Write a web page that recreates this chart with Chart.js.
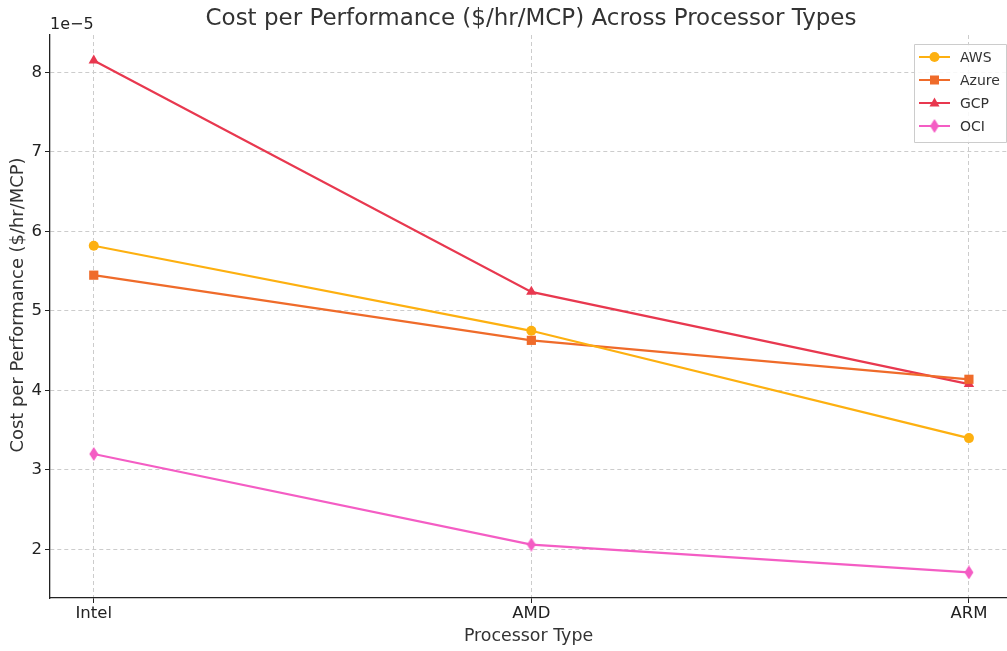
<!DOCTYPE html>
<html>
<head>
<meta charset="utf-8">
<script src="https://cdn.jsdelivr.net/npm/chart.js@4"></script>
<style>
  html, body { margin: 0; padding: 0; background: #fff; overflow: hidden; }
  canvas { display: block; }
</style>
</head>
<body>
<canvas id="chartCanvas" width="1007" height="651"></canvas>
<script>
// data (values in $/hr/MCP)
var categories = ['Intel', 'AMD', 'ARM']
var seriesNames = ['AWS', 'Azure', 'GCP', 'OCI']
var awsValues = [5.82e-5, 4.75e-5, 3.40e-5]
var azureValues = [5.45e-5, 4.63e-5, 4.14e-5]
var gcpValues = [8.15e-5, 5.24e-5, 4.08e-5]
var ociValues = [3.20e-5, 2.06e-5, 1.71e-5]
var yTickValues = [2e-5, 3e-5, 4e-5, 5e-5, 6e-5, 7e-5, 8e-5]

var colors = ['#FDB010', '#EF6B2A', '#E8384F', '#F45DC4']
var font = "'DejaVu Sans', sans-serif"

// thin diamond marker like matplotlib 'd'
function thinDiamond(color) {
    var c = document.createElement('canvas')
    c.width = 10
    c.height = 14
    var g = c.getContext('2d')
    g.fillStyle = color
    g.beginPath()
    g.moveTo(5, 0)
    g.lineTo(9.5, 7)
    g.lineTo(5, 14)
    g.lineTo(0.5, 7)
    g.closePath()
    g.fill()
    return c
}

var allValues = [awsValues, azureValues, gcpValues, ociValues]
var styles = ['circle', 'rect', 'triangle', thinDiamond(colors[3])]
var radii = [5, 6.5, 6, 6]

var datasets = seriesNames.map(function (name, i) {
    return {
        label: name,
        data: allValues[i].map(function (v, j) { return { x: j, y: v } }),
        borderColor: colors[i],
        backgroundColor: colors[i],
        borderWidth: 2.2,
        pointStyle: styles[i],
        pointRadius: radii[i],
        pointBorderWidth: 0,
        pointHoverRadius: radii[i],
        tension: 0
    }
})

// draw a text so it fills a given width
function fitText(ctx, text, width) {
    var size = 16
    ctx.font = size + 'px ' + font
    size = size * width / ctx.measureText(text).width
    ctx.font = size.toFixed(2) + 'px ' + font
}

// title, y title, offset text and legend drawn on top
var extras = {
    id: 'extras',
    afterDraw: function (chart) {
        var ctx = chart.ctx
        var area = chart.chartArea
        ctx.save()
        ctx.fillStyle = '#333333'
        ctx.textAlign = 'center'
        ctx.textBaseline = 'middle'
        var title = 'Cost per Performance ($/hr/MCP) Across Processor Types'
        fitText(ctx, title, 651)
        ctx.fillText(title, 531, 19)

        var yTitle = 'Cost per Performance ($/hr/MCP)'
        ctx.save()
        ctx.translate(18, 305)
        ctx.rotate(-Math.PI / 2)
        fitText(ctx, yTitle, 295)
        ctx.fillText(yTitle, 0, 0)
        ctx.restore()

        ctx.font = '16px ' + font
        ctx.textAlign = 'left'
        ctx.fillStyle = '#222222'
        ctx.fillText('1e\u22125', area.left, 25)

        // legend box
        var bx = 914.5, by = 44.5, bw = 92, bh = 98
        ctx.fillStyle = 'rgba(255,255,255,0.85)'
        ctx.strokeStyle = '#cccccc'
        ctx.lineWidth = 1
        ctx.beginPath()
        ctx.rect(bx, by, bw, bh)
        ctx.fill()
        ctx.stroke()
        ctx.font = '14px ' + font
        ctx.textBaseline = 'middle'
        seriesNames.forEach(function (name, i) {
            var y = 57 + i * 23
            ctx.strokeStyle = colors[i]
            ctx.lineWidth = 2
            ctx.beginPath()
            ctx.moveTo(919, y)
            ctx.lineTo(950, y)
            ctx.stroke()
            ctx.fillStyle = colors[i]
            ctx.beginPath()
            if (i === 0) {
                ctx.arc(934.5, y, 5, 0, Math.PI * 2)
                ctx.fill()
            } else if (i === 1) {
                ctx.fillRect(930, y - 4.5, 9, 9)
            } else if (i === 2) {
                ctx.moveTo(934.5, y - 5.5)
                ctx.lineTo(939.5, y + 3.5)
                ctx.lineTo(929.5, y + 3.5)
                ctx.closePath()
                ctx.fill()
            } else {
                ctx.drawImage(styles[3], 929.5, y - 7)
            }
            ctx.fillStyle = '#333333'
            ctx.fillText(name, 960, y + 1)
        })
        ctx.restore()
    }
}

var ctx = document.getElementById('chartCanvas')
var myChart = new Chart(ctx, {
    type: 'line',
    data: { datasets: datasets },
    options: {
        responsive: false,
        animation: false,
        devicePixelRatio: 1,
        layout: { autoPadding: false, padding: { top: 35, left: 0, right: 0, bottom: 0 } },
        plugins: {
            legend: { display: false },
            tooltip: { enabled: false }
        },
        scales: {
            x: {
                type: 'linear',
                min: -0.1,
                max: 2.087,
                afterBuildTicks: function (scale) {
                    scale.ticks = categories.map(function (c, i) { return { value: i } })
                },
                afterFit: function (scale) { scale.height = 53 },
                ticks: {
                    color: '#222222',
                    font: { family: font, size: 16.5 },
                    padding: 1,
                    callback: function (v) { return categories[v] }
                },
                grid: {
                    color: '#cccccc',
                    lineWidth: 1,
                    tickLength: 5,
                    tickColor: '#222222',
                    tickBorderDash: []
                },
                border: { display: true, color: '#222222', width: 1.3, dash: [4, 3] },
                title: {
                    display: true,
                    text: 'Processor Type',
                    color: '#333333',
                    font: { family: font, size: 17.4 },
                    padding: { top: 0, bottom: 4 }
                }
            },
            y: {
                type: 'linear',
                min: 1.388e-5,
                max: 8.472e-5,
                afterBuildTicks: function (scale) {
                    scale.ticks = yTickValues.map(function (v) { return { value: v } })
                },
                afterFit: function (scale) { scale.width = 50 },
                ticks: {
                    color: '#222222',
                    font: { family: font, size: 16.5 },
                    padding: 3,
                    callback: function (v) { return String(Math.round(v / 1e-5)) }
                },
                grid: {
                    color: '#cccccc',
                    lineWidth: 1,
                    tickLength: 5,
                    tickColor: '#222222',
                    tickBorderDash: []
                },
                border: { display: true, color: '#222222', width: 1.3, dash: [4, 3] },
                title: { display: false }
            }
        }
    },
    plugins: [extras]
})
</script>
</body>
</html>
